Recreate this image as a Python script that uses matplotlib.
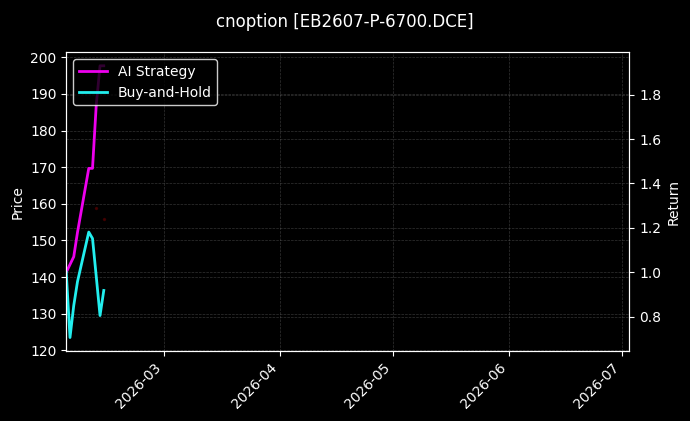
import matplotlib
matplotlib.use("Agg")
import matplotlib.pyplot as plt
import matplotlib.dates as mdates
import pandas as pd

title = "cnoption [EB2607-P-6700.DCE]"
dates = pd.to_datetime(["2026-02-03", "2026-02-04", "2026-02-05", "2026-02-06",
                        "2026-02-09", "2026-02-10", "2026-02-11", "2026-02-12",
                        "2026-02-13"])
strategy = [1.00, 1.035, 1.07, 1.18, 1.468, 1.468, 1.755, 1.93, 1.93]
buyhold = [1.00, 0.706, 0.85, 0.958, 1.181, 1.152, 0.98, 0.805, 0.918]
signal_dates = pd.to_datetime(["2026-02-11", "2026-02-13"])
signal_prices = [158.8, 155.8]
price_ylim = (119.8, 201.4)
x_start = pd.Timestamp("2026-02-03")
x_end = pd.Timestamp("2026-07-03")

plt.rcParams['font.family'] = ['DejaVu Sans']
fig = plt.figure(figsize=(6.9, 4.21), dpi=100, facecolor='black')
ax = fig.add_axes([0.096, 0.166, 0.816, 0.710])
ax.set_facecolor('black')
ax2 = ax.twinx()

ax.scatter(signal_dates, signal_prices, s=2, color='#5a0000', alpha=0.6, zorder=1)
ax.set_ylim(*price_ylim)
ax.set_ylabel("Price", color='white')

l1, = ax2.plot(dates, strategy, color='#ee00ee', lw=2, label='AI Strategy')
l2, = ax2.plot(dates, buyhold, color='#22eeee', lw=2, label='Buy-and-Hold')
ax2.set_ylabel("Return", color='white')

ax.set_xlim(x_start, x_end)
ax.xaxis.set_major_locator(mdates.MonthLocator())
ax.xaxis.set_major_formatter(mdates.DateFormatter('%Y-%m'))
for lab in ax.get_xticklabels():
    lab.set_rotation(45)
    lab.set_ha('right')

for a in (ax, ax2):
    a.tick_params(colors='white', labelsize=10)
    for sp in a.spines.values():
        sp.set_color('white')
    a.grid(True, color='gray', linestyle='--', linewidth=0.5, alpha=0.4)

leg = ax2.legend(handles=[l1, l2], loc='upper left', facecolor='black',
                 edgecolor='white', fontsize=10)
for t in leg.get_texts():
    t.set_color('white')

fig.suptitle(title, color='white', fontsize=12, y=0.97)
fig.savefig("out.png", dpi=100, facecolor='black')
